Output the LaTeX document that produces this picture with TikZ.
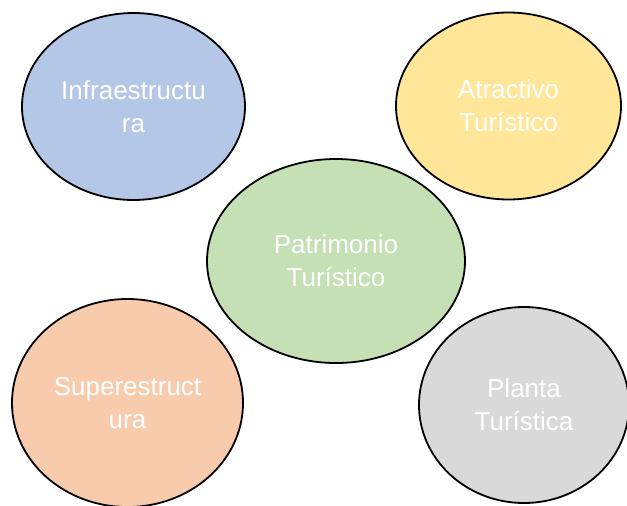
\documentclass[tikz,border=0pt]{standalone}
\usepackage{fontspec}
\setmainfont{Liberation Sans}
\usetikzlibrary{shapes.geometric}
\definecolor{infraBlue}{HTML}{B4C7E7}
\definecolor{atractivoYellow}{HTML}{FFE699}
\definecolor{patrimonioGreen}{HTML}{C5E0B4}
\definecolor{superPeach}{HTML}{F8CBAD}
\definecolor{plantaGray}{HTML}{D9D9D9}

\begin{document}
\begin{tikzpicture}[
    x=1pt, y=-1pt,
    every node/.style={font=\fontsize{26}{33}\selectfont},
    bubble/.style={ellipse, draw, line width=1.8pt, text=white, align=center, inner sep=0pt}
]
\useasboundingbox (0,0) rectangle (627,506);
\clip (0,0) rectangle (627,506);

% Centre
\node[bubble, fill=patrimonioGreen, minimum width=258pt, minimum height=204pt] (patrimonio) at (336,261) {Patrimonio\\Turístico};

% Corners
\node[bubble, fill=infraBlue, minimum width=223pt, minimum height=187pt] (infra) at (133.5,106.5) {Infraestructu\\ra};
\node[bubble, fill=atractivoYellow, minimum width=225pt, minimum height=187pt] (atractivo) at (508.5,106) {Atractivo\\Turístico};
\node[bubble, fill=superPeach, minimum width=231pt, minimum height=208pt] (super) at (127.5,403) {Superestruct\\ura};
\node[bubble, fill=plantaGray, minimum width=210pt, minimum height=196pt] (planta) at (524,405) {Planta\\Turística};

\end{tikzpicture}
\end{document}
